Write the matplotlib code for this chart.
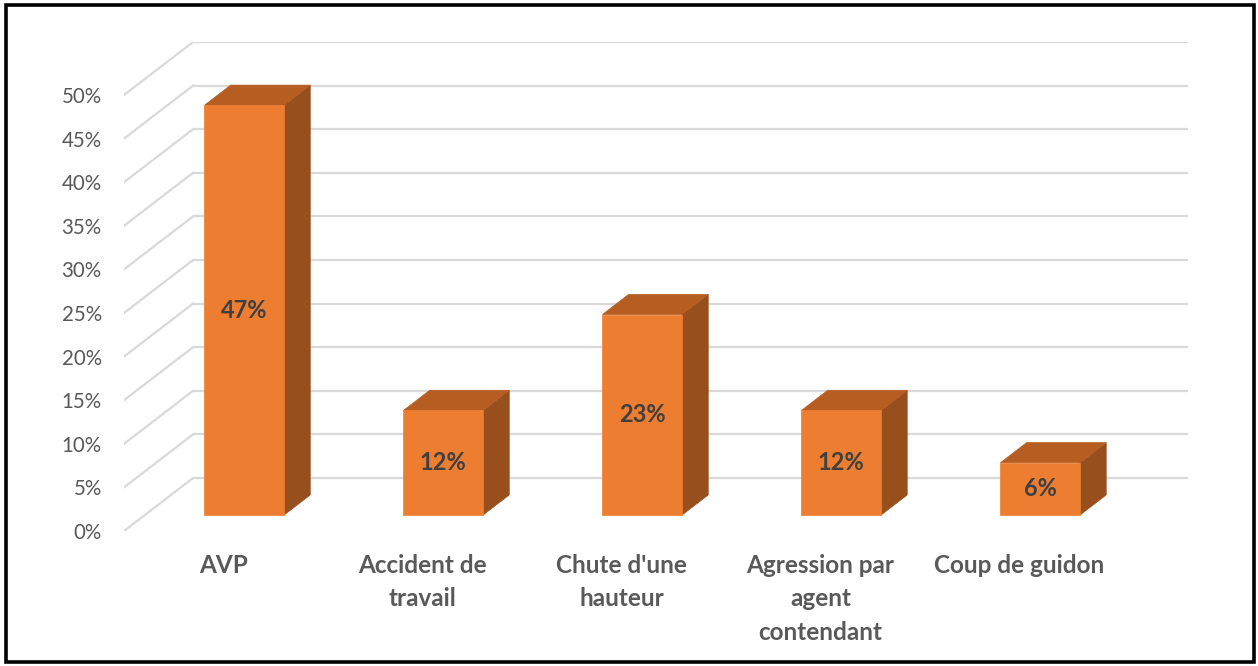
import matplotlib.pyplot as plt
from matplotlib.patches import Polygon, Rectangle

categories = ["AVP", "Accident de\ntravail", "Chute d'une\nhauteur",
              "Agression par\nagent\ncontendant", "Coup de guidon"]
values = [47, 12, 23, 12, 6]
yticks = list(range(0, 51, 5))

# pseudo-3D projection: depth d in [0, 1] shifts right and up
DX = 0.347   # category units for full depth
DY = 6.08    # percent units for full depth
BAR_W = 0.40
D0, D1 = 0.30, 0.68

FRONT = "#ED7D31"
TOP = "#B65D22"
SIDE = "#984F1E"
GRID = "#D9D9D9"

plt.rcParams['font.family'] = ['Lato', 'DejaVu Sans']

fig = plt.figure(figsize=(12.58, 6.66), dpi=100)
W, H = 1258, 666
ax = fig.add_axes([124 / W, (H - 531) / H, (1188 - 124) / W, (531 - 42) / H])
ax.set_xlim(-0.5, 4.5 + DX)
ax.set_ylim(0, 50 + DY)


def proj(x, v, d):
    return (x + d * DX, v + d * DY)


# back wall gridlines and floor diagonals
for v in yticks:
    ax.plot([-0.5 + DX, 4.5 + DX], [v + DY, v + DY], color=GRID, lw=1.6,
            solid_capstyle='butt', zorder=1)
    ax.plot([-0.5, -0.5 + DX], [v, v + DY], color=GRID, lw=1.6, zorder=1)

for i, v in enumerate(values):
    x0, x1 = i - BAR_W / 2, i + BAR_W / 2
    front = [proj(x0, 0, D0), proj(x1, 0, D0), proj(x1, v, D0), proj(x0, v, D0)]
    top = [proj(x0, v, D0), proj(x1, v, D0), proj(x1, v, D1), proj(x0, v, D1)]
    side = [proj(x1, 0, D0), proj(x1, 0, D1), proj(x1, v, D1), proj(x1, v, D0)]
    for pts, col in ((side, SIDE), (top, TOP), (front, FRONT)):
        ax.add_patch(Polygon(pts, closed=True, facecolor=col, edgecolor=col,
                             lw=0.5, zorder=3))
    cx, cy = proj(i, v / 2, D0)
    ax.text(cx, cy, f"{v}%", ha='center', va='center', fontsize=17,
            fontweight='bold', color='#404040', zorder=4)

ax.set_yticks(yticks)
ax.set_yticklabels([f"{v}%" for v in yticks], fontsize=14.8, color='#595959')
ax.set_xticks(range(len(categories)))
ax.set_xticklabels(categories, fontsize=17.5, fontweight='bold', color='#595959',
                   linespacing=1.55, va='top')
ax.tick_params(axis='y', length=0, pad=16)
ax.tick_params(axis='x', length=0, pad=16.5)
for s in ax.spines.values():
    s.set_visible(False)

# outer frame
fig.patches.append(Rectangle((6 / W, 4 / H), (W - 10) / W, (H - 9) / H,
                             transform=fig.transFigure, fill=False,
                             edgecolor='black', lw=2.6))

fig.savefig("out.png", dpi=100)
